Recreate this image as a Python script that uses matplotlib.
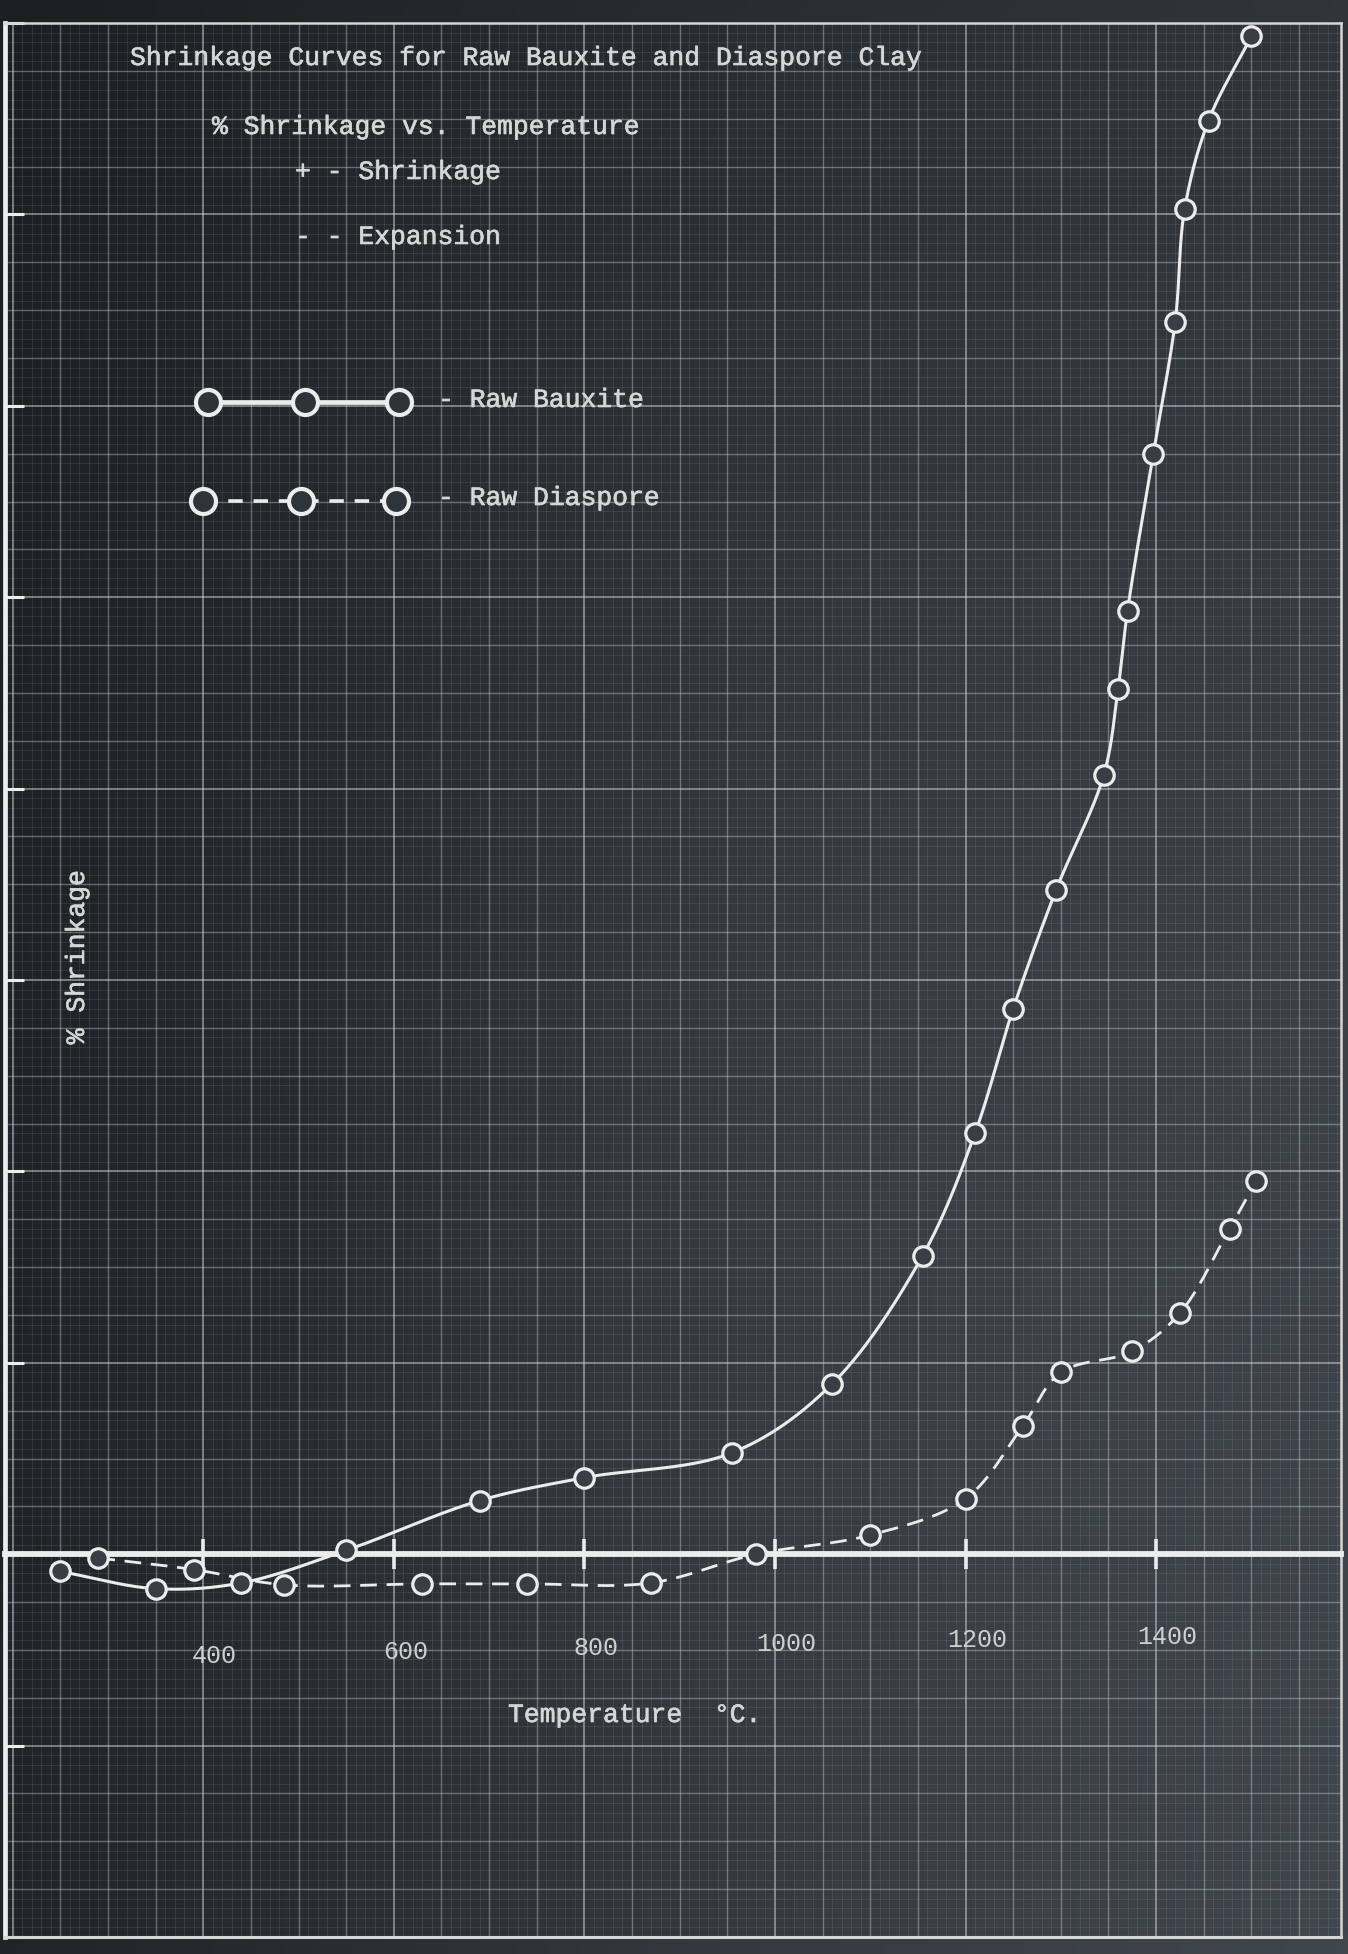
import numpy as np
import matplotlib
matplotlib.use('Agg')
import matplotlib.pyplot as plt
import matplotlib.patheffects as pe

plt.rcParams['font.family'] = ['Liberation Mono', 'DejaVu Sans Mono']

# firing temperature (deg C) and % shrinkage, one unit per heavy grid square
bauxite_temp = [250, 350, 440, 550, 690, 800, 955, 1060, 1155, 1210, 1250, 1295,
                1345, 1360, 1370, 1397, 1420, 1430, 1455, 1500]
bauxite_shrink = [-0.09, -0.18, -0.15, 0.02, 0.28, 0.40, 0.53, 0.89, 1.56, 2.20, 2.85, 3.47,
                  4.07, 4.52, 4.93, 5.75, 6.44, 7.03, 7.49, 7.93]

diaspore_temp = [290, 390, 485, 630, 740, 870, 980, 1100, 1200, 1260, 1300, 1375,
                 1425, 1477, 1505]
diaspore_shrink = [-0.02, -0.08, -0.16, -0.155, -0.155, -0.15, 0.0, 0.10, 0.29, 0.67, 0.95, 1.06,
                   1.26, 1.70, 1.95]

temp_ticks = [400, 600, 800, 1000, 1200, 1400]
temp_labels = ['400', '600', '800', '1000', '1200', '1400']

W, H = 1348, 1954
INK = '#ececec'
TXT = '#d6d6d6'
typed = [pe.withStroke(linewidth=0.45, foreground=TXT)]


def fx(px):
    return px / W


def fy(py):
    return 1 - py / H


def smooth(xs, ys, n=40):
    # centripetal catmull-rom through the plotted points, x scaled so one
    # 200 deg step is about the size of one shrinkage unit
    p = np.column_stack([np.asarray(xs, float) / 200.0, np.asarray(ys, float)])
    p = np.vstack([2 * p[0] - p[1], p, 2 * p[-1] - p[-2]])
    out = []
    for i in range(1, len(p) - 2):
        p0, p1, p2, p3 = p[i - 1], p[i], p[i + 1], p[i + 2]
        t0 = 0.0
        t1 = t0 + np.linalg.norm(p1 - p0) ** 0.5
        t2 = t1 + np.linalg.norm(p2 - p1) ** 0.5
        t3 = t2 + np.linalg.norm(p3 - p2) ** 0.5
        t = np.linspace(t1, t2, n)[:, None]
        a1 = (t1 - t) / (t1 - t0) * p0 + (t - t0) / (t1 - t0) * p1
        a2 = (t2 - t) / (t2 - t1) * p1 + (t - t1) / (t2 - t1) * p2
        a3 = (t3 - t) / (t3 - t2) * p2 + (t - t2) / (t3 - t2) * p3
        b1 = (t2 - t) / (t2 - t0) * a1 + (t - t0) / (t2 - t0) * a2
        b2 = (t3 - t) / (t3 - t1) * a2 + (t - t1) / (t3 - t1) * a3
        out.append((t2 - t) / (t2 - t1) * b1 + (t - t1) / (t2 - t1) * b2)
    c = np.vstack(out)
    return c[:, 0] * 200.0, c[:, 1]


fig = plt.figure(figsize=(W / 100, H / 100), dpi=100)
fig.patch.set_facecolor('#2c3136')

# dark blueprint-style backing, lighter towards the middle right
bg = fig.add_axes([0, 0, 1, 1], zorder=-5)
u = np.linspace(0, 1, 90)[None, :]
v = np.linspace(0, 1, 130)[:, None]
b = 32 + 22 * u + 5 * v + 12 * u * v + 10 * np.exp(-((u - 0.6) ** 2 / 0.15 + (v - 0.55) ** 2 / 0.2))
img = np.dstack([b * 0.88, b * 0.97, b * 1.06]) / 255.0
bg.imshow(np.clip(img, 0, 1), aspect='auto', interpolation='bilinear', extent=[0, 1, 0, 1])
bg.axis('off')

ax = fig.add_axes([fx(5), 1 - 1937 / H, (1341 - 5) / W, (1937 - 23) / H])
ax.set_facecolor('none')
ax.set_xlim(192, 1594)
ax.set_ylim(-2, 8)

# graph paper rulings
for xv in np.arange(200, 1591, 10):
    if xv % 200 == 0:
        ax.axvline(xv, color='#d0d4d8', lw=1.2, alpha=0.6, zorder=1)
    elif xv % 50 == 0:
        ax.axvline(xv, color='#d0d4d8', lw=1.0, alpha=0.4, zorder=1)
    else:
        ax.axvline(xv, color='#c8ccd0', lw=0.6, alpha=0.13, zorder=1)
for yv in np.round(np.arange(-2, 8.001, 0.05), 2):
    if abs(yv - round(yv)) < 1e-6:
        ax.axhline(yv, color='#d0d4d8', lw=1.2, alpha=0.6, zorder=1)
    elif abs(yv * 4 - round(yv * 4)) < 1e-6:
        ax.axhline(yv, color='#d0d4d8', lw=1.0, alpha=0.4, zorder=1)
    else:
        ax.axhline(yv, color='#c8ccd0', lw=0.6, alpha=0.13, zorder=1)

# zero line carries the temperature ticks
ax.spines['bottom'].set_position(('data', 0))
ax.spines['bottom'].set_linewidth(4.2)
ax.spines['bottom'].set_color(INK)
ax.spines['left'].set_linewidth(3.4)
ax.spines['left'].set_color(INK)
for side in ['top', 'right']:
    ax.spines[side].set_linewidth(1.8)
    ax.spines[side].set_color('#d6d6d6')
ax.axhline(-2, color='#d6d6d6', lw=2.2, clip_on=False, zorder=3)

ax.set_xticks(temp_ticks)
ax.set_yticks(range(-2, 9))
ax.tick_params(axis='x', direction='inout', length=22, width=2.6, colors=INK,
               labelbottom=False)
ax.tick_params(axis='y', direction='in', length=14, width=2.2, colors=INK,
               labelleft=False)

for t, lab in zip(temp_ticks, temp_labels):
    ax.text(t + 12, -0.53 + (t - 400) * 0.0001, lab, ha='center', va='center',
            fontsize=18, color='#cfcfcf')

# curves
bx, by = smooth(bauxite_temp, bauxite_shrink)
ax.plot(bx, by, color=INK, lw=2.2, zorder=4, solid_capstyle='round')
ax.plot(bauxite_temp, bauxite_shrink, 'o', ms=14, mew=2.3, mec=INK, mfc='#383e44', zorder=5)

dx, dy = smooth(diaspore_temp, diaspore_shrink)
ax.plot(dx, dy, color=INK, lw=2.0, dashes=(6, 3.5), zorder=4)
ax.plot(diaspore_temp, diaspore_shrink, 'o', ms=14, mew=2.3, mec=INK, mfc='#383e44', zorder=5)

# headings and key
fs = 19
fig.text(fx(130), fy(58), 'Shrinkage Curves for Raw Bauxite and Diaspore Clay',
         fontsize=fs, color=TXT, va='center', path_effects=typed)
fig.text(fx(212), fy(127), '% Shrinkage vs. Temperature', fontsize=fs, color=TXT,
         va='center', path_effects=typed)
fig.text(fx(295), fy(172), '+ - Shrinkage', fontsize=fs, color=TXT, va='center',
         path_effects=typed)
fig.text(fx(295), fy(237), '- - Expansion', fontsize=fs, color=TXT, va='center',
         path_effects=typed)

key_b = [fx(208), fx(305), fx(399)]
ax.plot(key_b, [fy(402)] * 3, '-o', color=INK, lw=3.4, ms=18, mew=3.0, mec=INK,
        mfc='#2e3338', transform=fig.transFigure, clip_on=False, zorder=6)
fig.text(fx(438), fy(400), '- Raw Bauxite', fontsize=fs, color=TXT, va='center',
         path_effects=typed)

key_d = [fx(203), fx(301), fx(396)]
ax.plot(key_d, [fy(501)] * 3, '--o', color=INK, lw=2.6, dashes=(4, 3), ms=18, mew=3.0,
        mec=INK, mfc='#2f3439', transform=fig.transFigure, clip_on=False, zorder=6)
fig.text(fx(438), fy(498), '- Raw Diaspore', fontsize=fs, color=TXT, va='center',
         path_effects=typed)

fig.text(fx(508), fy(1715), 'Temperature  °C.', fontsize=fs, color=TXT, va='center',
         path_effects=typed)
fig.text(fx(77), fy(957), '% Shrinkage', fontsize=fs, color=TXT, rotation=90,
         ha='center', va='center', path_effects=typed)

plt.savefig('out.png', dpi=100)
plt.close()
